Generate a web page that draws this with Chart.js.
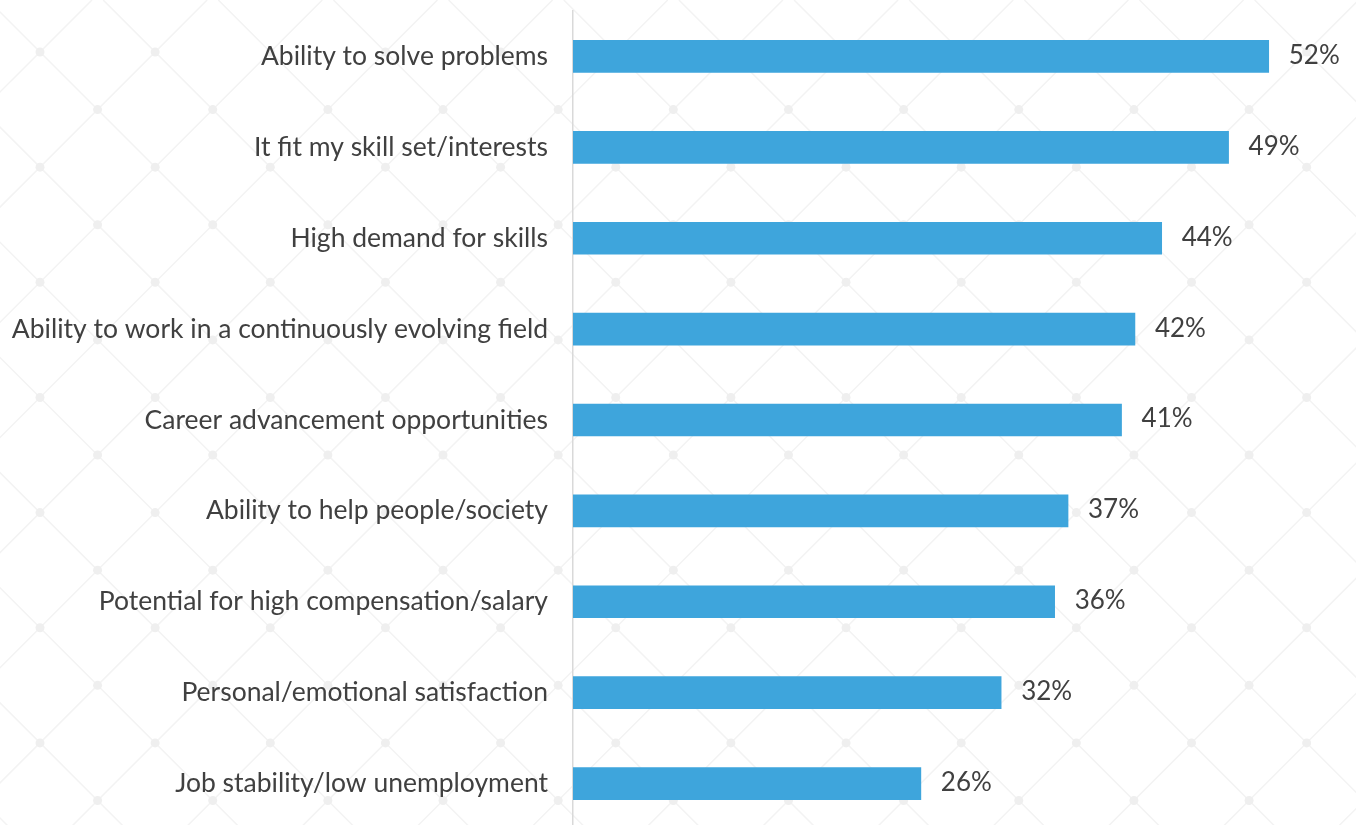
<!DOCTYPE html>
<html>
<head>
<meta charset="utf-8">
<script src="https://cdn.jsdelivr.net/npm/chart.js@4.4.1/dist/chart.umd.min.js"></script>
<style>
  html, body { margin: 0; padding: 0; background: #ffffff; overflow: hidden; }
  #wrap { position: relative; width: 1356px; height: 830px; }
</style>
</head>
<body>
<div id="wrap"><canvas id="chart"></canvas></div>
<script>
// Reasons for choosing the field, share of respondents (%)
const categories = [
  'Ability to solve problems',
  'It fit my skill set/interests',
  'High demand for skills',
  'Ability to work in a continuously evolving field',
  'Career advancement opportunities',
  'Ability to help people/society',
  'Potential for high compensation/salary',
  'Personal/emotional satisfaction',
  'Job stability/low unemployment'
];
const shares = [52, 49, 44, 42, 41, 37, 36, 32, 26];

const TEXT_COLOR = '#404040';
const BAR_COLOR = '#3ea5dc';
const FONT_FAMILY = 'Lato, "Open Sans", sans-serif';

// Light diamond lattice with dots at the crossings
const latticeBackground = {
  id: 'latticeBackground',
  beforeDraw(chart) {
    const { ctx, width, height } = chart;
    const period = 115.15;
    const half = period / 2;
    const x0 = 40, y0 = 52;
    ctx.save();
    ctx.fillStyle = '#ffffff';
    ctx.fillRect(0, 0, width, height);
    ctx.strokeStyle = '#f3f3f3';
    ctx.lineWidth = 1.5;
    ctx.beginPath();
    const span = width + height;
    for (let c = (x0 - y0) - Math.ceil(span / period) * period; c < span; c += period) {
      // x - y = c
      ctx.moveTo(c, 0);
      ctx.lineTo(c + height, height);
    }
    for (let c = (x0 + y0) - Math.ceil(span / period) * period; c < span * 2; c += period) {
      // x + y = c
      ctx.moveTo(c, 0);
      ctx.lineTo(c - height, height);
    }
    ctx.stroke();
    ctx.fillStyle = '#efefef';
    for (let j = -1, y = y0 - half; y < height + half; j++, y += half) {
      const shift = (Math.abs(j) % 2) * half;
      for (let x = x0 + shift - 2 * period; x < width + period; x += period) {
        ctx.beginPath();
        ctx.arc(x, y, 4.5, 0, Math.PI * 2);
        ctx.fill();
      }
    }
    ctx.restore();
  }
};

// Percentage text to the right of each bar
const barValueLabels = {
  id: 'barValueLabels',
  afterDatasetsDraw(chart) {
    const { ctx } = chart;
    const meta = chart.getDatasetMeta(0);
    ctx.save();
    ctx.font = '26px ' + FONT_FAMILY;
    ctx.fillStyle = TEXT_COLOR;
    ctx.textAlign = 'left';
    ctx.textBaseline = 'middle';
    meta.data.forEach((bar, i) => {
      ctx.fillText(shares[i] + '%', bar.x + 20, bar.y - 1);
    });
    ctx.restore();
  }
};

new Chart(document.getElementById('chart'), {
  type: 'bar',
  data: {
    labels: categories,
    datasets: [{
      data: shares,
      backgroundColor: BAR_COLOR,
      borderWidth: 0,
      barThickness: 32
    }]
  },
  options: {
    indexAxis: 'y',
    responsive: true,
    maintainAspectRatio: false,
    animation: false,
    layout: { padding: { top: 11, bottom: 1, left: 0, right: 7 } },
    plugins: {
      legend: { display: false },
      tooltip: { enabled: false }
    },
    scales: {
      x: {
        display: false,
        min: 0,
        max: 58
      },
      y: {
        afterFit(scale) {
          scale.width = 573;
          scale.paddingTop = 0;
          scale.paddingBottom = 0;
        },
        grid: { display: false, drawTicks: false },
        border: { display: true, color: '#d9d9d9', width: 1.5 },
        ticks: {
          padding: 25,
          color: TEXT_COLOR,
          font: { family: FONT_FAMILY, size: 26.5 }
        }
      }
    }
  },
  plugins: [latticeBackground, barValueLabels]
});
</script>
</body>
</html>
